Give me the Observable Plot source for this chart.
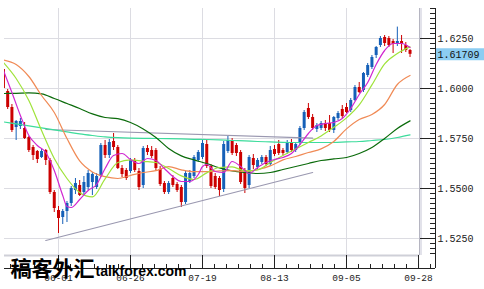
<!DOCTYPE html>
<html><head><meta charset="utf-8">
<script src="https://cdn.jsdelivr.net/npm/d3@7"></script>
<script src="https://cdn.jsdelivr.net/npm/@observablehq/plot@0.6"></script>
<style>html,body{margin:0;padding:0;background:#fff;}#chart svg{display:block;}</style>
</head><body><div id="chart"></div>
<script>
// Daily GBP/USD candles, day index 0 = 06-01 (trading days)
const firstDay = -13;
const openP  = [1.6095,1.5985,1.5905,1.5805,1.5810,1.5800,1.5755,1.5705,1.5685,1.5655,1.5690,1.5640,1.5480,
  1.5390,1.5355,1.5385,1.5425,1.5490,1.5515,1.5480,1.5505,1.5530,1.5505,1.5560,1.5715,1.5665,1.5735,1.5705,1.5600,1.5590,
  1.5585,1.5640,1.5585,1.5515,1.5700,1.5690,1.5690,1.5595,1.5525,1.5480,1.5550,1.5520,1.5505,1.5430,1.5535,1.5560,1.5640,
  1.5655,1.5720,1.5610,1.5560,1.5550,1.5495,1.5685,1.5740,1.5715,1.5680,1.5590,1.5515,1.5650,1.5605,1.5630,1.5655,1.5620,
  1.5695,1.5720,1.5690,1.5680,1.5730,1.5690,1.5725,1.5800,1.5900,1.5855,1.5795,1.5800,1.5825,1.5825,1.5790,1.5850,1.5895,
  1.5905,1.5890,1.5940,1.6005,1.5990,1.6065,1.6105,1.6165,1.6215,1.6255,1.6250,1.6235,1.6220,1.6235,1.6215,1.6190];
const highP  = [1.6105,1.5995,1.5920,1.5840,1.5850,1.5830,1.5760,1.5715,1.5690,1.5700,1.5695,1.5650,1.5490,
  1.5410,1.5395,1.5435,1.5510,1.5550,1.5540,1.5560,1.5590,1.5580,1.5575,1.5725,1.5740,1.5745,1.5775,1.5715,1.5615,1.5600,
  1.5650,1.5650,1.5600,1.5710,1.5715,1.5710,1.5700,1.5610,1.5535,1.5535,1.5565,1.5530,1.5515,1.5585,1.5590,1.5665,1.5690,
  1.5745,1.5745,1.5620,1.5575,1.5560,1.5735,1.5760,1.5750,1.5725,1.5690,1.5600,1.5665,1.5670,1.5650,1.5665,1.5665,1.5710,
  1.5715,1.5740,1.5700,1.5740,1.5745,1.5730,1.5810,1.5890,1.5925,1.5870,1.5825,1.5835,1.5840,1.5865,1.5860,1.5885,1.5915,
  1.5925,1.5950,1.6015,1.6030,1.6080,1.6125,1.6165,1.6210,1.6260,1.6265,1.6260,1.6245,1.6307,1.6265,1.6230,1.6195];
const lowP   = [1.5990,1.5895,1.5780,1.5740,1.5795,1.5745,1.5680,1.5640,1.5625,1.5650,1.5615,1.5470,1.5380,
  1.5275,1.5320,1.5330,1.5410,1.5470,1.5460,1.5465,1.5490,1.5465,1.5495,1.5555,1.5650,1.5650,1.5690,1.5595,1.5555,1.5540,
  1.5575,1.5580,1.5490,1.5500,1.5665,1.5650,1.5590,1.5510,1.5470,1.5470,1.5505,1.5480,1.5405,1.5420,1.5525,1.5550,1.5630,
  1.5645,1.5600,1.5500,1.5495,1.5460,1.5480,1.5675,1.5665,1.5660,1.5520,1.5475,1.5500,1.5595,1.5595,1.5620,1.5610,1.5610,
  1.5660,1.5665,1.5665,1.5670,1.5680,1.5680,1.5715,1.5790,1.5845,1.5790,1.5780,1.5790,1.5785,1.5780,1.5775,1.5840,1.5850,
  1.5875,1.5880,1.5935,1.5975,1.5980,1.6055,1.6095,1.6150,1.6205,1.6210,1.6205,1.6175,1.6210,1.6175,1.6180,1.6155];
const closeP = [1.6000,1.5905,1.5790,1.5835,1.5835,1.5750,1.5690,1.5665,1.5645,1.5685,1.5640,1.5480,1.5400,
  1.5350,1.5385,1.5425,1.5500,1.5525,1.5465,1.5530,1.5575,1.5570,1.5560,1.5715,1.5665,1.5730,1.5705,1.5600,1.5570,1.5550,
  1.5640,1.5590,1.5505,1.5700,1.5680,1.5660,1.5600,1.5520,1.5480,1.5525,1.5515,1.5490,1.5430,1.5575,1.5575,1.5655,1.5680,
  1.5725,1.5610,1.5510,1.5505,1.5490,1.5720,1.5740,1.5675,1.5675,1.5530,1.5500,1.5655,1.5615,1.5640,1.5655,1.5620,1.5690,
  1.5670,1.5675,1.5675,1.5730,1.5690,1.5720,1.5800,1.5880,1.5855,1.5800,1.5815,1.5825,1.5800,1.5790,1.5855,1.5875,1.5860,
  1.5880,1.5940,1.6005,1.5980,1.6075,1.6115,1.6155,1.6205,1.6250,1.6225,1.6215,1.6220,1.6235,1.6220,1.6190,1.61709];

// Moving averages (day index, price)
const slowDays = [-13,-10,-7,-4,-1,2,5,8,11,14,17,20,23,26,29,32,35,38,41,44,47,50,53,56,59,62,65,68,71,74,77,80,83];
const maDarkGreen = [1.5975,1.5976,1.5978,1.5973,1.5950,1.5925,1.5900,1.5873,1.5855,1.5849,1.5830,1.5798,1.5755,1.5700,1.5663,1.5643,1.5625,1.5603,1.5588,1.5580,1.5575,1.5580,1.5595,1.5610,1.5625,1.5640,1.5648,1.5655,1.5675,1.5705,1.5750,1.5800,1.5838];
const maTeal = [1.5833,1.5823,1.5813,1.5803,1.5793,1.5783,1.5773,1.5765,1.5758,1.5754,1.5752,1.5751,1.5750,1.5749,1.5748,1.5746,1.5745,1.5743,1.5740,1.5738,1.5735,1.5733,1.5731,1.5730,1.5730,1.5730,1.5730,1.5733,1.5735,1.5740,1.5745,1.5755,1.5768];
const maOrange = [1.6143,1.6120,1.6060,1.5965,1.5880,1.5750,1.5638,1.5583,1.5559,1.5550,1.5565,1.5580,1.5589,1.5609,1.5593,1.5584,1.5584,1.5588,1.5589,1.5585,1.5595,1.5613,1.5643,1.5660,1.5680,1.5698,1.5735,1.5798,1.5845,1.5870,1.5920,1.6020,1.6065];
const maLightGreen = [1.6130,1.6050,1.5940,1.5790,1.5650,1.5550,1.5480,1.5458,1.5548,1.5630,1.5643,1.5636,1.5630,1.5600,1.5563,1.5545,1.5578,1.5605,1.5608,1.5588,1.5593,1.5630,1.5665,1.5698,1.5730,1.5763,1.5806,1.5853,1.5918,1.6018,1.6123,1.6175,1.6208];
const fastDays = [-13,-11,-9,-7,-5,-3,-1,1,2,3,5,7,9,11,13,15,17,19,21,23,25,27,29,31,33,34,35,37,39,41,43,45,47,49,51,53,55,57,59,61,63,65,67,69,71,73,75,77,79,81,83];
const maMagenta = [1.6090,1.5980,1.5865,1.5765,1.5715,1.5680,1.5590,1.5465,1.5410,1.5405,1.5445,1.5490,1.5520,1.5600,1.5665,1.5675,1.5645,1.5625,1.5650,1.5640,1.5600,1.5560,1.5535,1.5535,1.5570,1.5610,1.5620,1.5585,1.5580,1.5635,1.5610,1.5575,1.5605,1.5630,1.5645,1.5655,1.5675,1.5720,1.5775,1.5815,1.5825,1.5830,1.5850,1.5900,1.5970,1.6030,1.6120,1.6190,1.6225,1.6225,1.6205];
// Two drawn trend lines
const trendDays = [-3, 60];
const supportLine = [1.5240, 1.5580];
const resistLine = [1.5795, 1.5752];

// Axis ticks
const tickDays = [0, 17, 34, 51, 68, 85];
const tickLabels = ["06-01", "06-26", "07-19", "08-13", "09-05", "09-28"];
const priceTicks = [1.525, 1.55, 1.575, 1.6, 1.625];
const lastPrice = 1.61709;

const candles = openP.map((o, k) => ({day: firstDay + k, open: o, high: highP[k], low: lowP[k], close: closeP[k]}));
const up = d => d.close >= d.open;
const RED = "#cc0000", BLUE = "#1560b8";
const minorDays = d3.range(-4, 32).map(k => k * 17 / 6);
const minorPrices = d3.range(0, 50).map(k => 1.5175 + k * 0.0025);
const xDomain = [-12.75, 89.01];
const yDomain = [1.51, 1.64];

const chart = Plot.plot({
  width: 484, height: 289,
  marginLeft: 4, marginRight: 49, marginTop: 8, marginBottom: 21,
  x: {type: "linear", domain: xDomain, axis: null},
  y: {type: "linear", domain: yDomain, axis: null},
  style: {background: "#fff", overflow: "visible"},
  marks: [
    // grid
    Plot.ruleY(priceTicks, {stroke: "#dcdce2", insetRight: 16}),
    Plot.ruleX(tickDays.slice(0, 5), {stroke: "#dcdce2", insetBottom: 13}),
    // panel border
    Plot.ruleY([yDomain[0]], {dy: -13, insetRight: 16, stroke: "#cfd0d8", strokeWidth: 2}),
    Plot.ruleX([85], {dx: 1, insetBottom: 13, stroke: "#b4b4c0"}),
    Plot.ruleX([85], {dx: 2.5, insetBottom: 13, stroke: "#e2e2ea", strokeWidth: 2}),
    // candles
    Plot.ruleX(candles, {x: "day", y1: "low", y2: "high", stroke: d => up(d) ? BLUE : RED, strokeWidth: 1, clip: true}),
    Plot.ruleX(candles, {x: "day", y1: "open", y2: d => Math.abs(d.close - d.open) < 0.0003 ? d.open + (up(d) ? 0.0003 : -0.0003) : d.close, stroke: d => up(d) ? BLUE : RED, strokeWidth: 3, clip: true}),
    // trend lines
    Plot.line(supportLine, {x: trendDays, y: supportLine, stroke: "#9a98b0", strokeWidth: 1.2}),
    Plot.line(resistLine, {x: trendDays, y: resistLine, stroke: "#9a98b0", strokeWidth: 1.2}),
    // moving averages
    Plot.line(maTeal, {x: slowDays, y: maTeal, stroke: "#3ddc9c", strokeWidth: 1.2, curve: "monotone-x", clip: true}),
    Plot.line(maDarkGreen, {x: slowDays, y: maDarkGreen, stroke: "#0b6b0b", strokeWidth: 1.2, curve: "monotone-x", clip: true}),
    Plot.line(maOrange, {x: slowDays, y: maOrange, stroke: "#f08a55", strokeWidth: 1.2, curve: "monotone-x", clip: true}),
    Plot.line(maLightGreen, {x: slowDays, y: maLightGreen, stroke: "#9fe33a", strokeWidth: 1.2, curve: "monotone-x", clip: true}),
    Plot.line(maMagenta, {x: fastDays, y: maMagenta, stroke: "#d027d0", strokeWidth: 1.2, curve: "monotone-x", clip: true}),
    // axes lines
    Plot.ruleY([yDomain[0]], {stroke: "#222"}),
    Plot.ruleX([xDomain[1]], {stroke: "#222"}),
    // y ticks
    Plot.ruleY(minorPrices, {insetLeft: 426, stroke: "#222"}),
    Plot.ruleY(priceTicks, {insetLeft: 416, stroke: "#222"}),
    // x ticks
    Plot.ruleX(minorDays, {insetTop: 256, stroke: "#222"}),
    Plot.ruleX(tickDays, {insetTop: 247, stroke: "#222"}),
    // y labels
    Plot.text(priceTicks, {y: d => d, text: d => d.toFixed(4), frameAnchor: "right", textAnchor: "start", dx: 2, fontFamily: "Liberation Mono", fontSize: 10, fill: "#222"}),
    // last price box
    Plot.ruleY([lastPrice], {insetLeft: 432, insetRight: -49, stroke: "#8ccdf2", strokeWidth: 12}),
    Plot.text([lastPrice], {y: d => d, text: d => d.toFixed(5), frameAnchor: "right", textAnchor: "start", dx: 2, fontFamily: "Liberation Mono", fontSize: 10, fill: "#111"}),
    // x labels
    Plot.text(tickDays, {x: d => d, text: (d, i) => tickLabels[i], frameAnchor: "bottom", dy: 12, fontFamily: "Liberation Mono", fontSize: 9.5, fill: "#222"}),
    // watermark
    Plot.text(["稿客外汇"], {frameAnchor: "bottom-left", textAnchor: "start", dx: 6, dy: 7, fontSize: 21, fontWeight: "bold", fontFamily: "Noto Sans CJK SC", fill: "#000"}),
    Plot.text(["talkforex.com"], {frameAnchor: "bottom-left", textAnchor: "start", dx: 91, dy: 7.5, fontSize: 14, fontWeight: "bold", fontFamily: "Liberation Sans", fill: "#000"})
  ]
});
document.getElementById("chart").appendChild(chart);
</script></body></html>
